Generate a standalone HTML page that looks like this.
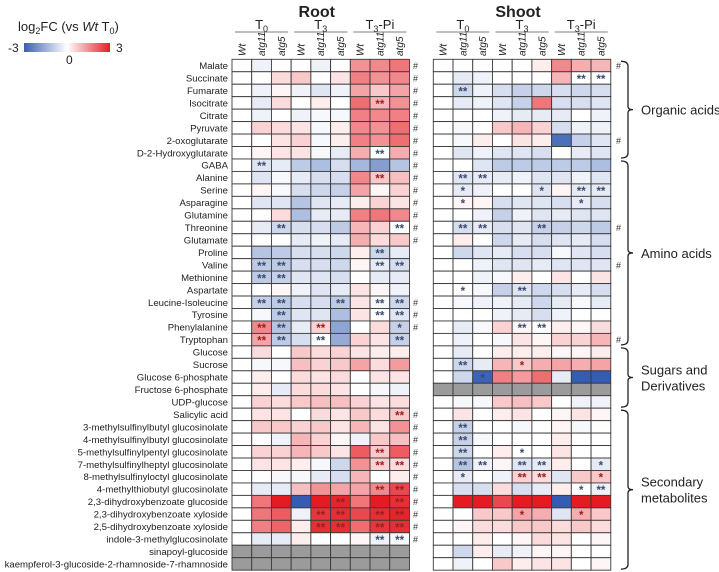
<!DOCTYPE html>
<html><head><meta charset="utf-8">
<style>
html,body{margin:0;padding:0;background:#fff;}
svg{display:block;font-family:"Liberation Sans",Arial,sans-serif;}
</style></head>
<body>
<svg id="chart" width="719" height="572" viewBox="0 0 719 572">
<defs>
<linearGradient id="cbar" x1="0" x2="1" y1="0" y2="0">
<stop offset="0" stop-color="#3a5fb2"/><stop offset="0.5" stop-color="#ffffff"/><stop offset="1" stop-color="#e41e26"/>
</linearGradient>
</defs>
<g>
<text x="18" y="31" font-size="13" fill="#222">log<tspan font-size="9" dy="3">2</tspan><tspan dy="-3">FC (vs </tspan><tspan font-style="italic">Wt</tspan> T<tspan font-size="9" dy="3">0</tspan><tspan dy="-3">)</tspan></text>
<rect x="24" y="43" width="86" height="9" fill="url(#cbar)"/>
<text x="8" y="52" font-size="12" fill="#222">-3</text>
<text x="116" y="52" font-size="12" fill="#222">3</text>
<text x="66" y="64" font-size="12" fill="#222">0</text>
</g>
<g id="plot"></g>
</svg>
<script>
const metabolites = ["Malate","Succinate","Fumarate","Isocitrate","Citrate","Pyruvate","2-oxoglutarate","D-2-Hydroxyglutarate","GABA","Alanine","Serine","Asparagine","Glutamine","Threonine","Glutamate","Proline","Valine","Methionine","Aspartate","Leucine-Isoleucine","Tyrosine","Phenylalanine","Tryptophan","Glucose","Sucrose","Glucose 6-phosphate","Fructose 6-phosphate","UDP-glucose","Salicylic acid","3-methylsulfinylbutyl glucosinolate","4-methylsulfinylbutyl glucosinolate","5-methylsulfinylpentyl glucosinolate","7-methylsulfinylheptyl glucosinolate","8-methylsulfinyloctyl glucosinolate","4-methylthiobutyl glucosinolate","2,3-dihydroxybenzoate glucoside","2,3-dihydroxybenzoate xyloside","2,5-dihydroxybenzoate xyloside","indole-3-methylglucosinolate","sinapoyl-glucoside","kaempferol-3-glucoside-2-rhamnoside-7-rhamnoside"];
const genotypes = ["Wt","atg11","atg5"];
const timepoints = ["T0","T3","T3-Pi"];
const NA = null;
const rootValues = [
[0,-0.2,0,0,-0.2,0,1.2,1.3,1.5],
[0,0,0.4,0.6,0,0.3,1.4,1.2,1.3],
[0,-0.2,0.1,-0.2,-0.4,-0.2,1.0,0.6,1.0],
[0,-0.3,0.4,0,0.2,0,1.6,0.8,1.2],
[0,-0.2,0,-0.2,-0.1,-0.1,1.4,1.3,1.4],
[0,0.5,0.4,0.3,-0.1,0.2,1.3,1.2,1.6],
[0,0,0.3,0.5,-0.1,0.2,1.4,1.2,1.6],
[0,0.1,0.3,0.3,-0.1,-0.3,0.9,0,0.9],
[0,-0.4,-0.3,-0.8,-1.0,-0.5,-1.1,-1.5,-0.9],
[0,-0.4,-0.1,-0.3,-0.5,-0.5,1.3,0.6,0.7],
[0,0.1,-0.1,-0.5,-0.6,-0.7,1.0,0.1,0.5],
[0,-0.4,-0.4,-0.9,-0.4,-0.3,0.2,0.5,0.3],
[0,0,0.4,-1.0,-0.3,-0.3,1.4,1.5,1.3],
[0,-0.3,-0.6,-0.5,-0.5,-0.8,0.8,0.5,0],
[0,0,0,-0.3,-0.2,-0.3,0.9,0.4,0.6],
[0,-0.9,-0.8,-0.5,-0.5,-0.6,0.2,-0.6,-0.3],
[0,-0.8,-0.8,-0.5,-0.5,-0.6,0.1,-0.3,-0.5],
[0,-0.8,-0.7,-0.4,-0.4,-0.5,0,-0.3,-0.3],
[0,0,0.1,-0.2,-0.4,-0.3,0.3,0.1,-0.2],
[0,-0.7,-0.8,-0.5,-0.5,-0.8,0.3,-0.1,-0.6],
[0,-0.1,-0.8,-0.4,-0.4,-1.0,0.3,0,-0.4],
[0,1.3,-0.9,-0.3,0.5,-1.4,0,0.4,-0.7],
[0,1.0,-0.8,-0.5,0,-1.3,0.5,0.3,-0.7],
[0,0.4,0,0.6,0.4,0.5,0.3,0.2,0.2],
[0,-0.1,-0.1,0.7,0.5,0.6,1.0,0.4,1.1],
[0,0.2,0,0.4,0.3,0.4,0,0.3,0.3],
[0,0.2,-0.3,0.4,0.4,0.3,0,-0.1,-0.2],
[0,0.5,0.4,0.6,0.7,0.7,0.5,0.3,0.4],
[0,0.3,0.3,0,0.4,0.3,0.6,0.4,0.6],
[0,0.6,0.6,0.5,0.6,0.3,0.8,0.3,1.2],
[0,0,-0.2,0.8,0.5,0.1,-0.2,0.6,0.7],
[0,0.5,0.5,0.8,0.6,0.3,1.8,0.6,1.8],
[0,0.3,0.3,0.2,-0.1,-0.6,1.2,0.5,0.4],
[0,0,-0.1,-0.1,-0.3,-0.5,0.8,0,0.2],
[0,-0.3,-0.3,0.7,1.2,1.0,1.0,1.3,2.0],
[0,1.5,2.5,-3,2.5,2.4,1.5,2.5,2.3],
[0,1.5,1.8,-0.2,2.2,2.3,2.0,2.3,2.4],
[0,1.4,1.7,0.2,2.3,2.3,1.6,2.2,2.3],
[0,-0.3,-0.3,0.2,0,0,0.1,-0.2,-0.1],
[NA,NA,NA,NA,NA,NA,NA,NA,NA],
[NA,NA,NA,NA,NA,NA,NA,NA,NA]];
const shootValues = [
[0,0,0,0,0,0.2,1.3,0.9,0.8],
[0,-0.3,-0.2,0,0,0,0.8,0,0],
[0,-0.6,-0.2,-0.5,-0.7,-0.6,-0.5,-0.6,-0.5],
[0,-0.3,-0.2,-0.4,-0.7,1.5,-0.5,-0.5,-0.4],
[0,0,0,-0.2,-0.3,-0.3,-0.3,0,-0.2],
[0,-0.1,0,0.6,0.8,0.5,-0.5,-0.2,-0.2],
[0,-0.1,0.2,0,0.3,0.2,-2.2,-0.7,-0.4],
[0,-0.4,-0.2,-0.4,-0.4,-0.5,0,-0.3,-0.4],
[0,0,-0.4,-0.8,-0.8,-0.8,-0.8,-0.8,-1.0],
[0,-0.4,-0.3,-0.3,-0.2,-0.4,-0.4,-0.2,-0.4],
[0,-0.3,-0.2,0,0,-0.4,0.1,-0.3,-0.3],
[0,0.1,0.1,-0.5,-0.4,-0.4,-0.5,-0.3,-0.5],
[0,0,-0.2,-0.7,-0.2,-0.4,-0.3,-0.4,-0.4],
[0,-0.5,-0.3,-0.5,-0.4,-0.7,-0.7,-0.6,-0.8],
[0,0.2,0,-0.6,-0.3,-0.5,-0.4,-0.3,-0.5],
[0,-0.6,-0.4,-0.3,-0.5,-0.5,-0.1,-0.4,-0.5],
[0,0,-0.2,-0.4,-0.4,-0.3,-0.4,-0.4,-0.4],
[0,0,-0.2,-0.1,0.2,0,0.3,0,0.3],
[0,0,-0.1,-0.7,-0.4,-0.6,-0.5,-0.3,-0.5],
[0,-0.1,-0.2,-0.2,-0.3,-0.6,-0.3,-0.1,-0.3],
[0,0,0,-0.2,-0.3,-0.5,-0.2,0,0],
[0,-0.3,-0.1,0.5,0.1,0,0.2,0.1,0.4],
[0,-0.2,0,-0.1,0.3,0.1,0.5,0.5,0.8],
[0,-0.3,0,0.2,0.2,0.2,0.1,0.1,0.2],
[0,-0.6,-0.3,0.8,0.6,0.9,1.0,0.9,1.0],
[0,-0.6,-2.4,1.4,1.1,1.6,-0.3,-2.6,-2.5],
[NA,NA,NA,NA,NA,NA,NA,NA,NA],
[0,-0.1,-0.1,0.6,0.7,0.6,0,-0.2,-0.2],
[0,0.3,0,0.2,0.3,0,0.1,0.3,0.1],
[0,-0.7,0,0,-0.1,0,0.1,-0.1,0],
[0,-0.7,-0.1,0,0,0,0.2,0,0],
[0,-0.6,0,0.2,0,0,0.3,0,0],
[0,-0.9,-0.2,0.1,-0.4,-0.3,0.2,0,-0.3],
[0,-0.3,0,-0.2,0.5,0.4,-0.4,0.6,0.6],
[0,-0.5,-0.5,0.4,-0.5,-0.3,0.2,0,-0.2],
[0,2.5,2.5,2.0,2.5,2.5,-2.6,2.5,2.6],
[0,0,0.6,0.6,1.0,0.9,-0.4,0.9,0.6],
[0,0.1,0.4,0.4,0.6,0.6,0.4,0.6,0.4],
[0,0,0.2,0,0.1,0.4,0.3,0,0.1],
[0,-0.6,0.2,-0.3,-0.2,0.1,0.1,0,0],
[0,-0.2,0,0.6,0.2,0.3,0.3,0,0.1]];
// significance marks: [row, col, mark]
const rootStars = [[3,7,"**"],[7,7,"**"],[8,1,"**"],[9,7,"**"],[13,2,"**"],[13,8,"**"],[15,7,"**"],[16,1,"**"],[16,2,"**"],[16,7,"**"],[16,8,"**"],[17,1,"**"],[17,2,"**"],[19,1,"**"],[19,2,"**"],[19,5,"**"],[19,7,"**"],[19,8,"**"],[20,2,"**"],[20,7,"**"],[20,8,"**"],[21,1,"**"],[21,2,"**"],[21,4,"**"],[21,8,"*"],[22,1,"**"],[22,2,"**"],[22,4,"**"],[22,8,"**"],[28,8,"**"],[31,7,"**"],[32,7,"**"],[32,8,"**"],[34,7,"**"],[34,8,"**"],[35,5,"**"],[35,8,"**"],[36,4,"**"],[36,5,"**"],[36,7,"**"],[36,8,"**"],[37,4,"**"],[37,5,"**"],[37,7,"**"],[37,8,"**"],[38,7,"**"],[38,8,"**"]];
const shootStars = [[1,7,"**"],[1,8,"**"],[2,1,"**"],[9,1,"**"],[9,2,"**"],[10,1,"*"],[10,5,"*"],[10,7,"**"],[10,8,"**"],[11,1,"*"],[11,7,"*"],[13,1,"**"],[13,2,"**"],[13,5,"**"],[18,1,"*"],[18,4,"**"],[21,4,"**"],[21,5,"**"],[24,1,"**"],[24,4,"*"],[25,2,"*"],[29,1,"**"],[30,1,"**"],[31,1,"**"],[31,4,"*"],[32,1,"**"],[32,2,"**"],[32,4,"**"],[32,5,"**"],[32,8,"*"],[33,1,"*"],[33,4,"**"],[33,5,"**"],[33,8,"*"],[34,7,"*"],[34,8,"**"],[36,4,"*"],[36,7,"*"]];
const rootHash = [0,1,2,3,4,5,6,7,8,9,10,11,12,13,14,19,20,21,28,29,30,31,32,33,34,35,36,37,38];
const shootHash = [0,6,13,16,22];
const groupLabels = ["Organic acids","Amino acids","Sugars and|Derivatives","Secondary|metabolites"];
const groupRows = [[0,7],[8,22],[23,27],[28,40]];

const NS="http://www.w3.org/2000/svg";
const plot=document.getElementById('plot');
const top0=59.3, rh=12.46, cw=19.72;
const panels=[{x0:232,title:"Root",vals:rootValues,stars:rootStars,hash:rootHash,hx:413},{x0:433.3,title:"Shoot",vals:shootValues,stars:shootStars,hash:shootHash,hx:616}];
function yS(r){return top0+r*rh;}
function color(v){
  if(v===null) return "#9b9b9b";
  const t=Math.min(1,Math.abs(v)/2.5);
  const c=v<0?[52,92,178]:[228,28,34];
  return `rgb(${Math.round(255+(c[0]-255)*t)},${Math.round(255+(c[1]-255)*t)},${Math.round(255+(c[2]-255)*t)})`;
}
function mk(tag,attrs){const e=document.createElementNS(NS,tag);for(const k in attrs)e.setAttribute(k,attrs[k]);return e;}

metabolites.forEach((m,i)=>{
  const t=mk('text',{x:228,y:yS(i)+rh/2+3.5,'font-size':9.6,'text-anchor':'end',fill:'#222'});
  t.textContent=m;
  
  
  plot.appendChild(t);
});

panels.forEach(p=>{
  const xS=c=>p.x0+c*cw;
  const g=mk('g',{});
  
  
  plot.appendChild(g);
  const title=mk('text',{x:xS(4.5)-4,y:17,'font-size':16,'font-weight':'bold','text-anchor':'middle',fill:'#222'});
  title.textContent=p.title;
  
  
  g.appendChild(title);
  timepoints.forEach((tp,k)=>{
    const cx=xS(k*3+1.5);
    const t=mk('text',{x:cx,y:29,'font-size':13,'text-anchor':'middle',fill:'#222'});
    const parts=tp.split('-');
    t.innerHTML='T<tspan font-size="9" dy="3">'+parts[0].slice(1)+'</tspan>'+(parts[1]?'<tspan dy="-3">-'+parts[1]+'</tspan>':'');
    
    
    g.appendChild(t);
    const l=mk('line',{x1:xS(k*3)+3,x2:xS(k*3+3)-3,y1:32,y2:32,stroke:'#555','stroke-width':0.8});
    
    
    g.appendChild(l);
    genotypes.forEach((gn,j)=>{
      const x=xS(k*3+j)+cw/2+3.5, y=56;
      const gt=mk('text',{x:x,y:y,'font-size':10,'font-style':'italic','text-anchor':'start',fill:'#222',transform:`rotate(-90 ${x} ${y})`});
      gt.textContent=gn;
      
      
      g.appendChild(gt);
    });
  });
  p.vals.forEach((row,r)=>{
    row.forEach((v,c)=>{
      const rc=mk('rect',{x:xS(c),y:yS(r),width:cw,height:rh,fill:color(v),stroke:'#3a3a3a','stroke-width':0.9});
      
      
      g.appendChild(rc);
    });
  });
  p.stars.forEach(([r,c,s])=>{
    const v=p.vals[r][c];
    const st=mk('text',{x:xS(c)+cw/2,y:yS(r)+rh/2+5,'font-size':11.5,'font-weight':'bold','text-anchor':'middle',fill:(v!==null&&v>0.3)?'#9a1f22':'#3c4a6a'});
    st.textContent=s;
    
    
    g.appendChild(st);
  });
  p.hash.forEach(r=>{
    const h=mk('text',{x:p.hx,y:yS(r)+rh/2+3.5,'font-size':9,fill:'#333'});
    h.textContent='#';
    
    
    g.appendChild(h);
  });
});

groupRows.forEach(([a,b],i)=>{
  const y1=yS(a)+2, y2=yS(b+1)-1, ym=(y1+y2)/2, x=628;
  const br=mk('path',{d:`M${x-7} ${y1} Q${x} ${y1} ${x} ${y1+5} L${x} ${ym-3} Q${x} ${ym} ${x+5} ${ym} Q${x} ${ym} ${x} ${ym+3} L${x} ${y2-5} Q${x} ${y2} ${x-7} ${y2}`,fill:'none',stroke:'#222','stroke-width':1.3});
  
  
  plot.appendChild(br);
  const lines=groupLabels[i].split('|');
  lines.forEach((ln,k)=>{
    const t=mk('text',{x:641,y:ym+5+(k-(lines.length-1)/2)*16,'font-size':13,fill:'#222'});
    t.textContent=ln;
    
    
    plot.appendChild(t);
  });
});
</script>
</body></html>
